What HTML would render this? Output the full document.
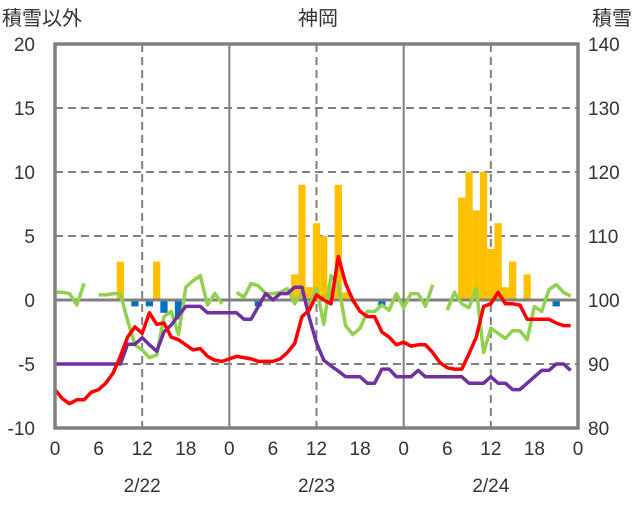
<!DOCTYPE html>
<html><head><meta charset="utf-8"><style>
body{margin:0;background:#fff;}
svg text{font-family:"Liberation Sans","Noto Sans CJK JP",sans-serif;fill:#333;}
</style></head><body>
<svg id="c" width="636" height="501"></svg>
<script>
const leftTicks=[20,15,10,5,0,-5,-10];
const rightTicks=[140,130,120,110,100,90,80];
const xTickLabels=["0","6","12","18","0","6","12","18","0","6","12","18","0"];
const dateLabels=["2/22","2/23","2/24"];
const precipHours=[9,14,33,34,35,36,37,38,39,40,56,57,58,59,60,61,62,63,65];
const precipVals=[3,3,2,9,1,6,5,1,9,0.6,8,10,7,10,4,6,1,3,2];
const negHours=[11,13,15,17,28,45,69];
const negVals=[-0.5,-0.5,-1,-1.5,-0.5,-0.5,-0.5];
const redVals=[-7,-7.7,-8.1,-7.8,-7.8,-7.2,-7,-6.5,-5.7,-4.4,-2.9,-2.1,-2.6,-1,-1.9,-1.8,-2.9,-3.1,-3.5,-3.9,-3.8,-4.4,-4.7,-4.8,
-4.6,-4.4,-4.5,-4.6,-4.8,-4.8,-4.8,-4.6,-4.1,-3.4,-1.3,-0.8,0.4,0,-0.3,3.4,1.3,0,-0.9,-1.3,-1.3,-2.5,-2.9,-3.5,
-3.3,-3.6,-3.5,-3.5,-4.1,-4.9,-5.3,-5.4,-5.4,-4.2,-2.9,-0.5,-0.3,0.6,-0.3,-0.3,-0.4,-1.5,-1.5,-1.5,-1.5,-1.8,-2,-2];
const greenVals=[0.6,0.6,0.5,-0.4,1.3,null,0.4,0.4,0.5,0.5,-1.6,-3.5,-3.9,-4.5,-4.3,-1.3,-0.9,-2.7,1,1.5,1.9,-0.4,0.5,-0.3,
null,0.6,0.2,1.3,1.1,0.5,0.5,0.6,0.9,-0.3,0.6,-0.5,0.9,-1.9,1.9,1.2,-2,-2.7,-2.2,-0.9,-0.9,-0.4,-0.8,0.5,
-0.6,0.5,0.5,-0.5,1.2,null,-0.8,0.6,-0.3,-0.6,0.9,-4.1,-2.2,-2.6,-3,-2.4,-2.4,-3.1,-0.5,-0.9,0.8,1.2,0.6,0.3];
const snowVals=[90,90,90,90,90,90,90,90,90,90,93.1,93.1,94.1,93,92,95,96.1,97.6,99,99,99,98,98,98,
98,98,97,97,99,101,100,101,101,102,102,97.3,93.3,90.6,89.7,88.9,88,88,88,87,87,89.2,89.2,88,
88,88,89,88,88,88,88,88,88,87,87,87,88,87,87,86,86,87,88,89,89,90,90,89];

const svg=document.getElementById('c');
const NS='http://www.w3.org/2000/svg';
const L=55,R=578,T=44,B=428;
const xS=h=>L+(R-L)*h/72;
const yL=v=>T+(20-v)*(B-T)/30;
const yR=v=>T+(140-v)*(B-T)/60;
function mk(t,a,p){const e=document.createElementNS(NS,t);for(const k in a)e.setAttribute(k,a[k]);(p||svg).appendChild(e);return e;}

// grid
[15,10,5,-5].forEach(v=>{const g=mk('line',{x1:L,x2:R,y1:yL(v),y2:yL(v),stroke:'#808080','stroke-width':2,'stroke-dasharray':'8,5'});

});
[12,36,60].forEach(h=>{const g=mk('line',{x1:xS(h),x2:xS(h),y1:T,y2:B,stroke:'#808080','stroke-width':2,'stroke-dasharray':'8,5'});

});
[24,48].forEach(h=>{const g=mk('line',{x1:xS(h),x2:xS(h),y1:T,y2:B,stroke:'#808080','stroke-width':2});

});

// bars
const bw=(R-L)/72;
precipHours.forEach((h,i)=>{const v=precipVals[i];const r=mk('rect',{x:xS(h)-bw/2,y:yL(v),width:bw,height:yL(0)-yL(v),fill:'#FFC000'});

});
negHours.forEach((h,i)=>{const v=negVals[i];const r=mk('rect',{x:xS(h)-bw/2,y:yL(0),width:bw,height:yL(v)-yL(0),fill:'#0070C0'});

});

// zero line
const z=mk('line',{x1:L,x2:R,y1:yL(0),y2:yL(0),stroke:'#808080','stroke-width':3});



function line(vals,yf,color,name){
  let d='',pen=false;
  vals.forEach((v,i)=>{if(v===null){pen=false;return;}d+=(pen?'L':'M')+xS(i).toFixed(1)+','+yf(v).toFixed(1);pen=true;});
  const p=mk('path',{d:d,fill:'none',stroke:color,'stroke-width':3.5,'stroke-linejoin':'round'});
  
  
}
line(greenVals,yL,'#92D050','green-series');
line(snowVals,yR,'#7030A0','snow-depth-series');
line(redVals,yL,'#FF0000','temperature-series');

// frame
const f=mk('rect',{x:L,y:T,width:R-L,height:B-T,fill:'none',stroke:'#808080','stroke-width':3.5});



// labels
leftTicks.forEach(v=>{const t=mk('text',{x:35,y:yL(v)+7,'text-anchor':'end','font-size':19});t.textContent=v;

});
rightTicks.forEach(v=>{const t=mk('text',{x:588,y:yR(v)+7,'font-size':19});t.textContent=v;

});
xTickLabels.forEach((s,i)=>{const t=mk('text',{x:xS(i*6),y:455,'text-anchor':'middle','font-size':19});t.textContent=s;

});
dateLabels.forEach((s,i)=>{const t=mk('text',{x:xS(i*24+12),y:492,'text-anchor':'middle','font-size':19});t.textContent=s;

});
[['積雪以外',2,'start','left-axis-title'],['神岡',318,'middle','chart-title'],['積雪',632,'end','right-axis-title']].forEach(a=>{
  const t=mk('text',{x:a[1],y:25,'text-anchor':a[2],'font-size':20});t.textContent=a[0];
  
  });
</script>
</body></html>
